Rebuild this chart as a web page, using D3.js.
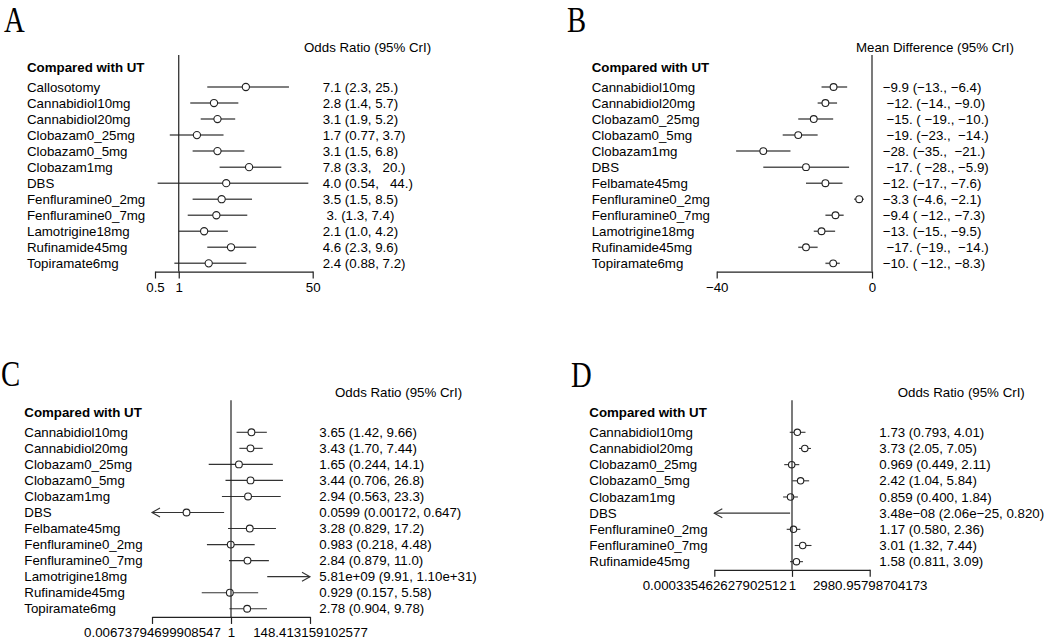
<!DOCTYPE html>
<html><head><meta charset="utf-8">
<script src="https://cdn.jsdelivr.net/npm/d3@7"></script>
<style>
body{margin:0;background:#fff}
svg text{font-family:"Liberation Sans",Arial,sans-serif;font-size:13.3px;white-space:pre;fill:#000}
svg text.letter{font-family:"Liberation Serif","Times New Roman",serif;font-size:35px}
</style></head><body><svg id="c" width="1052" height="639"></svg>
<script>
// ---------- Panel A ----------
const catsA=["Callosotomy","Cannabidiol10mg","Cannabidiol20mg","Clobazam0_25mg","Clobazam0_5mg","Clobazam1mg","DBS","Fenfluramine0_2mg","Fenfluramine0_7mg","Lamotrigine18mg","Rufinamide45mg","Topiramate6mg"];
const estA=[7.1,2.8,3.1,1.7,3.1,7.8,4.0,3.5,3.0,2.1,4.6,2.4];
const loA=[2.3,1.4,1.9,0.77,1.5,3.3,0.54,1.5,1.3,1.0,2.3,0.88];
const hiA=[25,5.7,5.2,3.7,6.8,20,44,8.5,7.4,4.2,9.6,7.2];
const txtA=["7.1 (2.3, 25.)","2.8 (1.4, 5.7)","3.1 (1.9, 5.2)","1.7 (0.77, 3.7)","3.1 (1.5, 6.8)","7.8 (3.3,   20.)","4.0 (0.54,   44.)","3.5 (1.5, 8.5)"," 3. (1.3, 7.4)","2.1 (1.0, 4.2)","4.6 (2.3, 9.6)","2.4 (0.88, 7.2)"];
const ticksA=[0.5,1,50];
const tickLabelsA=["0.5","1","50"];

// ---------- Panel B ----------
const catsB=["Cannabidiol10mg","Cannabidiol20mg","Clobazam0_25mg","Clobazam0_5mg","Clobazam1mg","DBS","Felbamate45mg","Fenfluramine0_2mg","Fenfluramine0_7mg","Lamotrigine18mg","Rufinamide45mg","Topiramate6mg"];
const estB=[-9.9,-12,-15,-19,-28,-17,-12,-3.3,-9.4,-13,-17,-10];
const loB=[-13,-14,-19,-23,-35,-28,-17,-4.6,-12,-15,-19,-12];
const hiB=[-6.4,-9.0,-10,-14,-21,-5.9,-7.6,-2.1,-7.3,-9.5,-14,-8.3];
const txtB=["−9.9 (−13., −6.4)"," −12. (−14., −9.0)"," −15. ( −19., −10.)"," −19. (−23.,  −14.)","−28. (−35.,  −21.)"," −17. ( −28., −5.9)","−12. (−17., −7.6)","−3.3 (−4.6, −2.1)","−9.4 ( −12., −7.3)","−13. (−15., −9.5)"," −17. (−19.,  −14.)","−10. ( −12., −8.3)"];
const ticksB=[-40,0];
const tickLabelsB=["−40","0"];

// ---------- Panel C ----------
const catsC=["Cannabidiol10mg","Cannabidiol20mg","Clobazam0_25mg","Clobazam0_5mg","Clobazam1mg","DBS","Felbamate45mg","Fenfluramine0_2mg","Fenfluramine0_7mg","Lamotrigine18mg","Rufinamide45mg","Topiramate6mg"];
const estC=[3.65,3.43,1.65,3.44,2.94,0.0599,3.28,0.983,2.84,5.81e9,0.929,2.78];
const loC=[1.42,1.70,0.244,0.706,0.563,0.00172,0.829,0.218,0.879,9.91,0.157,0.904];
const hiC=[9.66,7.44,14.1,26.8,23.3,0.647,17.2,4.48,11.0,1.10e31,5.58,9.78];
const txtC=["3.65 (1.42, 9.66)","3.43 (1.70, 7.44)","1.65 (0.244, 14.1)","3.44 (0.706, 26.8)","2.94 (0.563, 23.3)","0.0599 (0.00172, 0.647)","3.28 (0.829, 17.2)","0.983 (0.218, 4.48)","2.84 (0.879, 11.0)","5.81e+09 (9.91, 1.10e+31)","0.929 (0.157, 5.58)","2.78 (0.904, 9.78)"];
const ticksC=[0.00673794699908547,1,148.413159102577];
const tickLabelsC=["0.00673794699908547","1","148.413159102577"];

// ---------- Panel D ----------
const catsD=["Cannabidiol10mg","Cannabidiol20mg","Clobazam0_25mg","Clobazam0_5mg","Clobazam1mg","DBS","Fenfluramine0_2mg","Fenfluramine0_7mg","Rufinamide45mg"];
const estD=[1.73,3.73,0.969,2.42,0.859,3.48e-8,1.17,3.01,1.58];
const loD=[0.793,2.05,0.449,1.04,0.400,2.06e-25,0.580,1.32,0.811];
const hiD=[4.01,7.05,2.11,5.84,1.84,0.820,2.36,7.44,3.09];
const txtD=["1.73 (0.793, 4.01)","3.73 (2.05, 7.05)","0.969 (0.449, 2.11)","2.42 (1.04, 5.84)","0.859 (0.400, 1.84)","3.48e−08 (2.06e−25, 0.820)","1.17 (0.580, 2.36)","3.01 (1.32, 7.44)","1.58 (0.811, 3.09)"];
const ticksD=[0.000335462627902512,1,2980.95798704173];
const tickLabelsD=["0.000335462627902512","1","2980.95798704173"];

const svg=d3.select("#c");

function forest(c){
  const g=svg.append("g");
  const n=c.cats.length;
  const y=d3.scaleLinear().domain([0,n-1]).range([c.y0,c.y0+(n-1)*c.dy]);
  const x=c.x;
  const dom=x.domain();
  const dmin=Math.min(dom[0],dom[1]), dmax=Math.max(dom[0],dom[1]);
  const axisY=y(n-1)+8.2;

  g.append("text").attr("class","letter").attr("x",c.letterX).attr("y",c.letterY)
    .attr("transform",`translate(${c.letterX},0) scale(0.82,1) translate(${-c.letterX},0)`).text(c.letter);
  g.append("text").attr("x",c.headX).attr("y",c.headY).attr("dy","0.35em").text(c.head);
  g.append("text").attr("x",c.labelX).attr("y",c.headY+20).attr("dy","0.35em")
    .style("font-weight","bold").text("Compared with UT");

  g.selectAll(".cat").data(c.cats).join("text").attr("class","cat")
    .attr("x",c.labelX).attr("y",(d,i)=>y(i)).attr("dy","0.35em").text(d=>d);
  g.selectAll(".val").data(c.txt).join("text").attr("class","val")
    .attr("x",c.valX).attr("y",(d,i)=>y(i)).attr("dy","0.35em").text(d=>d);

  const rows=c.cats.map((d,i)=>({i,est:c.est[i],lo:c.lo[i],hi:c.hi[i]}));
  g.selectAll(".ci").data(rows).join("line").attr("class","ci")
    .attr("x1",d=>x(Math.max(d.lo,dmin))).attr("x2",d=>x(Math.min(d.hi,dmax)))
    .attr("y1",d=>y(d.i)).attr("y2",d=>y(d.i))
    .attr("stroke",c.lineColor).attr("stroke-width",c.lineW);
  g.selectAll(".arrL").data(rows.filter(d=>d.lo<dmin)).join("path").attr("class","arrL")
    .attr("d",d=>`M${x(dmin)+8},${y(d.i)-4.5}L${x(dmin)},${y(d.i)}L${x(dmin)+8},${y(d.i)+4.5}`)
    .attr("fill","none").attr("stroke",c.lineColor).attr("stroke-width",c.lineW);
  g.selectAll(".arrR").data(rows.filter(d=>d.hi>dmax)).join("path").attr("class","arrR")
    .attr("d",d=>`M${x(dmax)-8},${y(d.i)-4.5}L${x(dmax)},${y(d.i)}L${x(dmax)-8},${y(d.i)+4.5}`)
    .attr("fill","none").attr("stroke",c.lineColor).attr("stroke-width",c.lineW);
  g.selectAll(".pt").data(rows.filter(d=>d.est>=dmin&&d.est<=dmax)).join("circle").attr("class","pt")
    .attr("cx",d=>x(d.est)).attr("cy",d=>y(d.i)).attr("r",c.r)
    .attr("fill","#fff").attr("stroke","#222").attr("stroke-width",1.1);

  g.append("line").attr("x1",x(c.ref)).attr("x2",x(c.ref))
    .attr("y1",c.headY+8).attr("y2",axisY).attr("stroke","#222").attr("stroke-width",1.2);

  const ax=g.append("g").attr("transform",`translate(0,${axisY})`)
    .call(d3.axisBottom(x).tickValues(c.ticks).tickFormat((d,i)=>c.tickLabels[i]).tickSize(7).tickSizeOuter(0).tickPadding(4));
  ax.attr("font-size",null).attr("font-family",null);
  ax.selectAll("path,line").attr("stroke","#222").attr("stroke-width",1.2);
  ax.selectAll("text").attr("fill","#000");
}

forest({cats:catsA,est:estA,lo:loA,hi:hiA,txt:txtA,ticks:ticksA,tickLabels:tickLabelsA,
  x:d3.scaleLog().domain([0.5,50]).range([155,312.7]),ref:1,
  y0:87,dy:16.03,labelX:27,valX:322.7,headX:304,headY:47,head:"Odds Ratio (95% CrI)",
  letter:"A",letterX:4,letterY:31.5,lineColor:"#555",lineW:1.5,r:3.6});
forest({cats:catsB,est:estB,lo:loB,hi:hiB,txt:txtB,ticks:ticksB,tickLabels:tickLabelsB,
  x:d3.scaleLinear().domain([-40,0]).range([716.7,872]),ref:0,
  y0:87,dy:16.03,labelX:591.7,valX:882.7,headX:856,headY:47,head:"Mean Difference (95% CrI)",
  letter:"B",letterX:567,letterY:31.5,lineColor:"#555",lineW:1.5,r:3.4});
forest({cats:catsC,est:estC,lo:loC,hi:hiC,txt:txtC,ticks:ticksC,tickLabels:tickLabelsC,
  x:d3.scaleLog().domain([Math.exp(-5),Math.exp(5)]).range([152,310]),ref:1,
  y0:432.3,dy:16.04,labelX:24.3,valX:319.3,headX:335,headY:392.3,head:"Odds Ratio (95% CrI)",
  letter:"C",letterX:1,letterY:386,lineColor:"#333",lineW:1.1,r:3.4});
forest({cats:catsD,est:estD,lo:loD,hi:hiD,txt:txtD,ticks:ticksD,tickLabels:tickLabelsD,
  x:d3.scaleLog().domain([Math.exp(-8),Math.exp(8)]).range([714.3,869.7]),ref:1,
  y0:432.3,dy:16.17,labelX:589.3,valX:879.3,headX:897.7,headY:392.3,head:"Odds Ratio (95% CrI)",
  letter:"D",letterX:571,letterY:387.5,lineColor:"#333",lineW:1.1,r:3.2});
</script></body></html>
